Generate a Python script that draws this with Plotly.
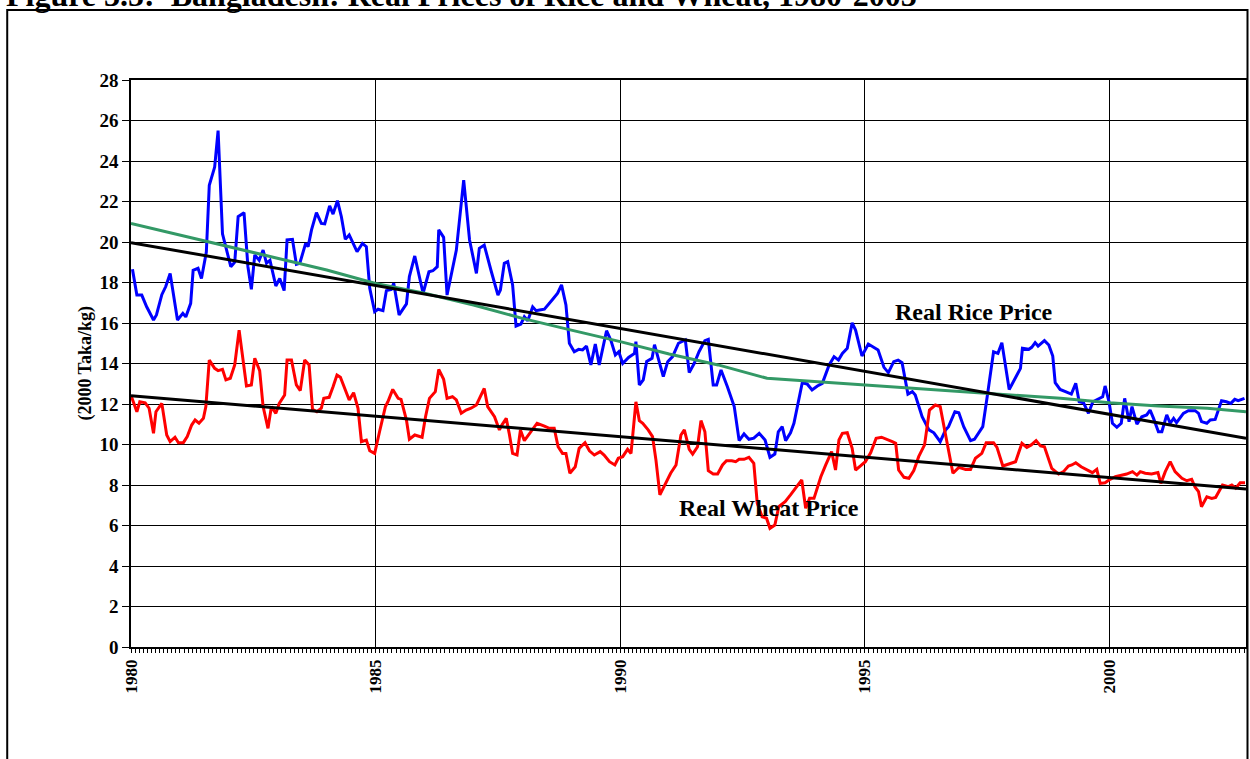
import plotly.graph_objects as go

# ---------------- data ----------------
rice_t = [0.03,0.12,0.22,0.32,0.46,0.52,0.63,0.71,0.80,0.86,0.95,1.06,1.12,1.22,1.27,1.37,1.44,1.54,1.60,1.71,
          1.78,1.87,1.95,2.04,2.12,2.19,2.31,2.39,2.46,2.53,2.62,2.70,2.77,2.84,2.96,3.04,3.13,3.19,3.30,3.38,
          3.45,3.57,3.62,3.69,3.79,3.89,3.96,4.06,4.13,4.22,4.30,4.38,4.46,4.54,4.62,4.73,4.81,4.88,4.98,5.05,
          5.15,5.22,5.32,5.37,5.48,5.63,5.69,5.80,5.97,6.09,6.17,6.26,6.29,6.39,6.46,6.65,6.80,6.92,7.06,7.12,
          7.22,7.36,7.50,7.55,7.63,7.70,7.80,7.87,7.97,8.04,8.11,8.21,8.28,8.35,8.45,8.62,8.72,8.80,8.89,8.96,
          9.06,9.15,9.23,9.31,9.40,9.49,9.57,9.72,9.81,9.90,9.97,10.05,10.17,10.29,10.32,10.39,10.47,10.54,10.65,10.70,
          10.88,10.97,11.07,11.19,11.27,11.33,11.41,11.51,11.61,11.73,11.80,11.90,11.97,12.06,12.19,12.33,12.43,12.53,12.63,12.73,
          12.84,12.96,13.06,13.16,13.23,13.31,13.38,13.48,13.55,13.64,13.72,13.82,13.92,14.03,14.13,14.27,14.37,14.46,14.54,14.64,
          14.74,14.81,14.94,15.07,15.15,15.27,15.39,15.48,15.59,15.68,15.76,15.88,15.97,16.03,16.17,16.31,16.41,16.54,16.65,16.71,
          16.84,16.92,17.02,17.16,17.24,17.41,17.50,17.63,17.72,17.80,17.95,18.06,18.18,18.22,18.35,18.41,18.48,18.54,18.67,18.76,
          18.84,18.89,18.99,19.10,19.22,19.31,19.38,19.47,19.57,19.66,19.78,19.86,19.91,19.99,20.06,20.15,20.24,20.31,20.40,20.46,
          20.56,20.66,20.76,20.83,20.90,21.00,21.07,21.17,21.24,21.31,21.37,21.51,21.61,21.75,21.82,21.88,21.99,22.06,22.16,22.22,
          22.29,22.39,22.48,22.56,22.63,22.76]
rice_price = [18.65,17.38,17.38,16.8,16.15,16.4,17.4,17.8,18.45,17.47,16.15,16.48,16.3,16.97,18.6,18.7,18.2,19.5,22.8,23.7,
              25.5,20.4,19.6,18.78,19.0,21.25,21.45,18.78,17.66,19.36,19.1,19.6,18.95,19.1,17.83,18.2,17.6,20.1,20.13,18.9,
              18.95,19.93,19.77,20.6,21.45,20.92,20.9,21.78,21.38,22.04,21.25,20.13,20.35,19.93,19.52,19.93,19.77,17.71,16.56,16.68,
              16.61,17.6,17.66,17.96,16.4,16.94,18.29,19.31,17.47,18.53,18.58,18.78,20.6,20.23,17.38,19.6,23.06,20.1,18.45,19.69,
              19.85,18.58,17.38,17.63,18.95,19.03,17.88,15.85,15.95,16.31,16.11,16.8,16.61,16.64,16.68,17.17,17.47,17.88,16.89,15.0,
              14.58,14.7,14.67,14.86,13.93,14.96,13.93,15.62,15.13,14.42,14.58,14.0,14.3,14.5,15.08,12.94,13.19,14.1,14.26,14.93,
              13.35,14.09,14.34,15.0,15.08,15.16,13.55,14.0,14.58,15.13,15.19,12.94,12.94,13.68,12.85,11.87,10.19,10.52,10.26,10.31,
              10.55,10.22,9.37,9.53,10.63,10.88,10.19,10.58,11.05,12.11,13.05,12.99,12.69,12.89,13.02,13.93,14.34,14.17,14.5,14.75,
              16.01,15.65,14.37,14.96,14.83,14.67,13.81,13.55,14.09,14.17,14.04,12.49,12.61,12.44,11.37,10.72,10.58,10.14,10.72,10.88,
              11.62,11.57,10.88,10.19,10.26,10.88,12.36,14.58,14.5,15.03,12.72,13.19,13.76,14.75,14.7,14.8,15.03,14.86,15.13,14.91,
              14.37,13.05,12.72,12.61,12.49,13.02,12.11,12.06,11.54,12.11,12.28,12.36,12.89,12.11,11.05,10.85,11.05,12.28,11.13,11.87,
              11.01,11.37,11.46,11.7,11.29,10.63,10.63,11.46,11.05,11.29,11.08,11.54,11.67,11.67,11.54,11.13,11.05,11.21,11.24,11.7,
              12.16,12.11,12.03,12.23,12.16,12.28]

wheat_t = [0.01,0.12,0.18,0.29,0.37,0.46,0.51,0.63,0.73,0.80,0.90,0.97,1.07,1.15,1.24,1.31,1.39,1.48,1.53,1.60,
           1.71,1.78,1.87,1.94,2.03,2.12,2.21,2.29,2.36,2.46,2.53,2.63,2.70,2.80,2.87,2.96,3.03,3.14,3.19,3.28,
           3.38,3.46,3.55,3.64,3.71,3.80,3.89,3.94,4.05,4.13,4.21,4.28,4.37,4.46,4.55,4.64,4.71,4.81,4.88,4.98,
           5.08,5.20,5.25,5.35,5.46,5.52,5.63,5.69,5.80,5.95,6.02,6.10,6.22,6.29,6.39,6.46,6.57,6.65,6.75,6.85,
           6.95,7.06,7.22,7.29,7.43,7.53,7.58,7.67,7.73,7.80,7.89,7.96,8.04,8.18,8.30,8.45,8.55,8.65,8.73,8.82,
           8.89,8.97,9.08,9.16,9.28,9.37,9.47,9.59,9.67,9.78,9.89,9.96,10.05,10.15,10.22,10.32,10.39,10.46,10.57,10.66,
           10.73,10.81,10.93,11.03,11.14,11.24,11.31,11.41,11.48,11.58,11.65,11.73,11.80,11.90,11.99,12.09,12.17,12.28,12.36,12.43,
           12.53,12.63,12.73,12.80,12.90,12.99,13.06,13.16,13.24,13.37,13.48,13.59,13.71,13.79,13.87,13.96,14.10,14.20,14.32,14.40,
           14.47,14.54,14.64,14.74,14.81,14.91,15.01,15.12,15.23,15.34,15.46,15.56,15.63,15.69,15.80,15.90,16.00,16.10,16.22,16.32,
           16.44,16.54,16.65,16.80,16.92,17.06,17.16,17.26,17.39,17.48,17.63,17.70,17.82,17.94,18.08,18.21,18.31,18.40,18.50,18.59,
           18.67,18.82,18.96,19.06,19.16,19.23,19.31,19.42,19.54,19.65,19.74,19.81,19.91,20.01,20.12,20.24,20.35,20.47,20.56,20.63,
           20.73,20.86,20.99,21.05,21.14,21.24,21.34,21.48,21.58,21.68,21.75,21.82,21.88,21.99,22.09,22.17,22.31,22.43,22.50,22.58,
           22.67,22.77]
wheat_price = [12.36,11.62,12.11,12.06,11.79,10.55,11.62,12.03,10.47,10.14,10.36,10.09,10.09,10.39,10.96,11.21,11.05,11.29,11.87,14.17,
               13.76,13.65,13.71,13.19,13.27,13.93,15.65,14.09,12.89,12.94,14.26,13.65,11.87,10.8,11.87,11.54,12.03,12.44,14.17,14.17,
               12.94,12.66,14.17,13.93,11.74,11.62,11.79,12.28,12.33,12.85,13.43,13.32,12.77,12.2,12.56,11.79,10.14,10.22,9.69,9.56,
               10.63,11.87,12.11,12.72,12.28,12.23,11.21,10.26,10.47,10.36,11.37,12.28,12.61,13.71,13.22,12.28,12.36,12.2,11.54,11.7,
               11.79,11.95,12.77,11.87,11.37,10.72,10.96,11.29,10.55,9.56,9.48,10.72,10.19,10.63,11.05,10.91,10.8,10.8,9.89,9.56,
               9.56,8.58,8.9,9.81,10.09,9.69,9.48,9.65,9.48,9.15,8.99,9.32,9.4,9.76,9.56,12.11,11.18,11.05,10.72,10.39,
               9.23,7.51,8.08,8.58,8.99,10.47,10.72,9.76,9.53,9.89,11.18,10.63,8.71,8.54,8.54,8.99,9.2,9.2,9.15,9.27,
               9.27,9.37,9.07,7.1,6.43,6.36,5.86,6.02,6.93,7.18,7.51,7.84,8.25,6.85,7.34,7.34,8.41,8.99,9.65,8.74,
               10.22,10.55,10.58,9.81,8.74,8.94,9.15,9.6,10.31,10.36,10.26,10.14,10.06,8.74,8.38,8.33,8.71,9.4,9.98,11.7,
               11.95,11.87,10.47,8.58,8.87,8.77,8.77,9.32,9.56,10.09,10.09,9.86,8.94,9.04,9.15,10.06,9.86,9.98,10.19,9.93,
               9.89,8.82,8.54,8.66,8.94,8.99,9.1,8.9,8.74,8.61,8.77,8.08,8.11,8.28,8.41,8.49,8.54,8.66,8.49,8.66,
               8.58,8.54,8.61,8.08,8.66,9.15,8.66,8.33,8.21,8.28,7.89,7.67,6.93,7.42,7.34,7.39,8.0,7.92,8.0,7.84,
               8.11,8.11]

green_t = [0, 1, 2, 3, 4, 5, 6, 7, 8, 9, 10, 11, 12, 13, 14, 15, 16, 17, 18, 19, 20, 21, 22, 22.79]
green_trend = [20.92, 20.35, 19.77, 19.19, 18.62, 17.95, 17.47, 16.89, 16.23, 15.65, 15.08, 14.47, 13.93,
               13.27, 13.1, 12.94, 12.77, 12.62, 12.44, 12.28, 12.06, 11.9, 11.79, 11.62]

trend_t = [0, 22.79]
rice_trend = [19.97, 10.31]
wheat_trend = [12.41, 7.80]

base_year = 1980
year_ticks = [1980, 1985, 1990, 1995, 2000]
y_ticks = list(range(0, 30, 2))

title_text = "Figure 3.5:  Bangladesh: Real Prices of Rice and Wheat, 1980-2003"

# ---------------- figure ----------------
def yrs(ts):
    return [base_year + t for t in ts]

FONT = "Liberation Serif"
fig = go.Figure()
fig.add_trace(go.Scatter(x=yrs(rice_t), y=rice_price, mode="lines",
                         line=dict(color="#0000FF", width=3), name="Real Rice Price"))
fig.add_trace(go.Scatter(x=yrs(wheat_t), y=wheat_price, mode="lines",
                         line=dict(color="#FF0000", width=3), name="Real Wheat Price"))
fig.add_trace(go.Scatter(x=yrs(green_t), y=green_trend, mode="lines",
                         line=dict(color="#339966", width=3), name="Trend"))
fig.add_trace(go.Scatter(x=yrs(trend_t), y=rice_trend, mode="lines",
                         line=dict(color="#000000", width=3), name="Rice trend"))
fig.add_trace(go.Scatter(x=yrs(trend_t), y=wheat_trend, mode="lines",
                         line=dict(color="#000000", width=3), name="Wheat trend"))

x_end = base_year + 22.79
fig.update_layout(
    width=1250, height=759,
    margin=dict(l=131, r=2, t=80, b=112, pad=0),
    paper_bgcolor="white", plot_bgcolor="white",
    showlegend=False,
    font=dict(family=FONT, color="black"),
    xaxis=dict(range=[base_year, x_end], tickmode="array", tickvals=year_ticks,
               ticktext=[str(v) for v in year_ticks], tickangle=-90,
               tickfont=dict(family=FONT, size=17, weight="bold"),
               showgrid=True, gridcolor="black", gridwidth=1.3,
               showline=True, linecolor="black", linewidth=1.5, mirror=True,
               ticks="outside", ticklen=4, tickcolor="black", tickwidth=1,
               minor=dict(dtick=1/12, tick0=base_year, ticks="outside", ticklen=4,
                          tickcolor="black", tickwidth=1, showgrid=False),
               zeroline=False),
    yaxis=dict(range=[0, 28], tickmode="array", tickvals=y_ticks,
               tickfont=dict(family=FONT, size=19, weight="bold"),
               showgrid=True, gridcolor="black", gridwidth=1.3,
               showline=True, linecolor="black", linewidth=1.5, mirror=True,
               ticks="outside", ticklen=7, tickcolor="black", tickwidth=1,
               zeroline=False),
)

fig.add_annotation(text="(2000 Taka/kg)", xref="paper", yref="paper",
                   x=(72 - 131) / 1117, y=(647 - 363) / 567, textangle=-90,
                   showarrow=False, font=dict(family=FONT, size=18, weight="bold"))
fig.add_annotation(text="Real Rice Price", xref="x", yref="y", x=1997.24, y=16.54,
                   showarrow=False, font=dict(family=FONT, size=24, weight="bold"))
fig.add_annotation(text="Real Wheat Price", xref="x", yref="y", x=1993.04, y=6.86,
                   showarrow=False, font=dict(family=FONT, size=24, weight="bold"))
fig.add_annotation(text=title_text, xref="paper", yref="paper",
                   x=(4 - 131) / 1117, y=(647 + 5) / 567, xanchor="left", yanchor="middle",
                   showarrow=False, font=dict(family=FONT, size=32, weight="bold"))

# outer frame of the figure
fig.add_shape(type="rect", xref="paper", yref="paper",
              x0=(7 - 131) / 1117, x1=(1249.5 - 131) / 1117,
              y0=(647 - 790) / 567, y1=(647 - 10) / 567,
              line=dict(color="black", width=2), layer="below")

fig.write_html("out.html", config={"displayModeBar": False},
               post_script="document.body.style.margin='0';document.body.style.overflow='hidden';")
